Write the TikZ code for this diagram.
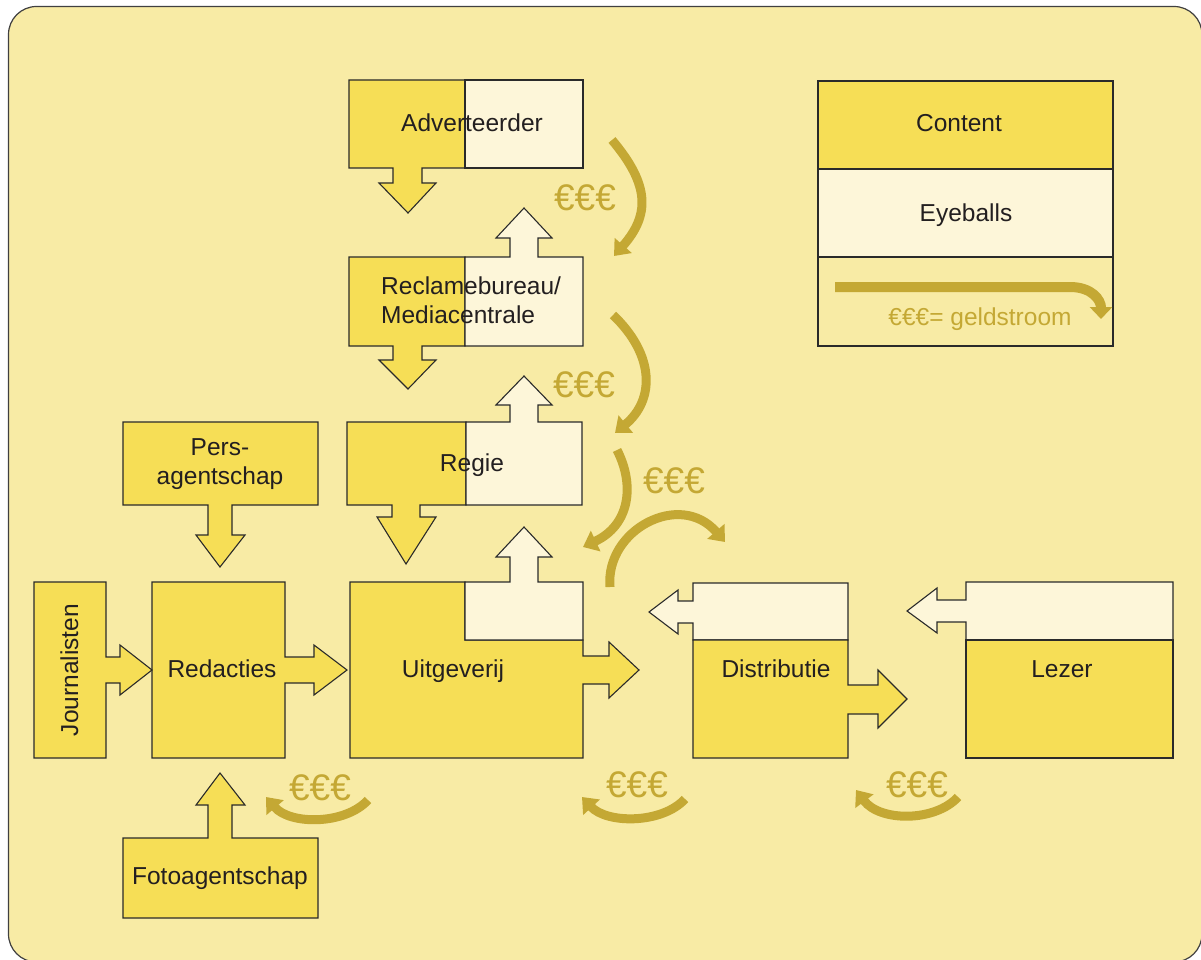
\documentclass[tikz,border=0pt]{standalone}
\usepackage{fontspec}
\setmainfont{Liberation Sans}
\usetikzlibrary{arrows.meta}
\definecolor{bgc}{HTML}{F8EBA5}
\definecolor{cont}{HTML}{F6DE56}
\definecolor{eye}{HTML}{FDF6D9}
\definecolor{euro}{HTML}{C4A834}
\definecolor{ink}{HTML}{231F20}
\definecolor{edge}{HTML}{2A2A2A}
\begin{document}
\begin{tikzpicture}[x=1pt,y=-1pt,
  contentshape/.style={fill=cont,draw=edge,line width=1.1pt,line join=miter},
  eyeshape/.style={fill=eye,draw=edge,line width=1.1pt,line join=miter},
  legendshape/.style={fill=bgc,draw=edge,line width=1.1pt},
  lbl/.style={inner sep=0pt,anchor=base,text=ink,font=\fontsize{24.5}{29}\selectfont},
  eurolbl/.style={inner sep=0pt,anchor=base,text=euro,font=\fontsize{37}{40}\selectfont},
  money/.style={draw=euro,line width=9pt,-{Triangle[width=22pt,length=14pt]}}
]
\useasboundingbox (0,0) rectangle (1201,960);
% background panel
\draw[fill=bgc,draw=black!75,line width=1.2pt,rounded corners=28pt] (8.5,6.5) rectangle (1202,962);

% Adverteerder
\draw[contentshape] (349,80) -- (465,80) -- (465,168) -- (422,168) -- (422,183) -- (436,183) -- (408,213) -- (379,183) -- (393,183) -- (393,168) -- (349,168) -- cycle;
\draw[eyeshape] (465,80) rectangle (583,168);
\node[lbl] (adv) at (472,132) {Adverteerder};

% Reclamebureau / Mediacentrale
\draw[contentshape] (349,257) -- (465,257) -- (465,346) -- (422,346) -- (422,360) -- (436,360) -- (408,389) -- (379,360) -- (393,360) -- (393,346) -- (349,346) -- cycle;
\draw[eyeshape] (465,257) -- (510,257) -- (510,238) -- (496,238) -- (524,208) -- (552,238) -- (538,238) -- (538,257) -- (583,257) -- (583,346) -- (465,346) -- cycle;
\node[lbl,anchor=base west] (recl1) at (381,294) {Reclamebureau/};
\node[lbl,anchor=base west] (recl2) at (381,323) {Mediacentrale};

% Regie
\draw[contentshape] (347,422) -- (466,422) -- (466,505) -- (420,505) -- (420,517) -- (436,517) -- (406,564) -- (377,517) -- (392,517) -- (392,505) -- (347,505) -- cycle;
\draw[eyeshape] (466,422) -- (510,422) -- (510,405) -- (496,405) -- (524,376) -- (552,405) -- (538,405) -- (538,422) -- (582,422) -- (582,505) -- (466,505) -- cycle;
\node[lbl] (regie) at (472,471) {Regie};

% Uitgeverij
\draw[contentshape] (350,582) -- (465,582) -- (465,640) -- (583,640) -- (583,656) -- (609,656) -- (609,642) -- (639,670) -- (609,698) -- (609,684) -- (583,684) -- (583,758) -- (350,758) -- cycle;
\draw[eyeshape] (465,582) -- (510,582) -- (510,557) -- (496,557) -- (524,527) -- (552,557) -- (538,557) -- (538,582) -- (583,582) -- (583,640) -- (465,640) -- cycle;
\node[lbl] (uitg) at (453,677) {Uitgeverij};

% Redacties
\draw[contentshape] (152,582) -- (285,582) -- (285,657) -- (314,657) -- (314,645) -- (347,670) -- (314,695) -- (314,683) -- (285,683) -- (285,758) -- (152,758) -- cycle;
\node[lbl] (red) at (222,677) {Redacties};

% Journalisten
\draw[contentshape] (34,582) -- (106,582) -- (106,657) -- (120,657) -- (120,645) -- (152,670) -- (120,695) -- (120,683) -- (106,683) -- (106,758) -- (34,758) -- cycle;
\node[lbl,rotate=90] (journ) at (78,670) {Journalisten};

% Persagentschap
\draw[contentshape] (123,422) -- (318,422) -- (318,505) -- (232,505) -- (232,535) -- (245,535) -- (220,567) -- (196,535) -- (208,535) -- (208,505) -- (123,505) -- cycle;
\node[lbl] (pers1) at (220,455) {Pers-};
\node[lbl] (pers2) at (220,484) {agentschap};

% Fotoagentschap
\draw[contentshape] (123,838) -- (208,838) -- (208,805) -- (196,805) -- (220,773) -- (245,805) -- (232,805) -- (232,838) -- (318,838) -- (318,918) -- (123,918) -- cycle;
\node[lbl] (foto) at (220,884) {Fotoagentschap};

% Distributie
\draw[eyeshape] (693,583) -- (848,583) -- (848,640) -- (693,640) -- (693,623) -- (678,623) -- (678,634) -- (649,612) -- (678,590) -- (678,601) -- (693,601) -- cycle;
\draw[contentshape] (693,640) -- (848,640) -- (848,685) -- (878,685) -- (878,670) -- (907,699) -- (878,728) -- (878,714) -- (848,714) -- (848,758) -- (693,758) -- cycle;
\node[lbl] (distr) at (776,677) {Distributie};

% Lezer
\draw[eyeshape] (966,582) -- (1173,582) -- (1173,640) -- (966,640) -- (966,622) -- (937,622) -- (937,633) -- (907,611) -- (937,588) -- (937,600) -- (966,600) -- cycle;
\draw[contentshape] (966,640) rectangle (1173,758);
\node[lbl] (lezer) at (1062,677) {Lezer};

% Legend
\draw[contentshape] (818,81) rectangle (1113,169);
\draw[eyeshape] (818,169) rectangle (1113,257);
\draw[legendshape] (818,257) rectangle (1113,346);
\node[lbl] (lcont) at (959,132) {Content};
\node[lbl] (leye) at (966,222) {Eyeballs};
\draw[draw=euro,line width=10pt,-{Triangle[width=22pt,length=12pt]}] (835,287) -- (1070,287) .. controls (1092,287) and (1101,300) .. (1101,319);
\node[lbl,text=euro] (lgeld) at (980,325) {€€€= geldstroom};

% money flows
\draw[money] (612,140) .. controls (650,185) and (650,215) .. (614,256);
\node[eurolbl] (e1) at (585,210) {€€€};
\draw[money] (613,315) .. controls (655,355) and (655,400) .. (615,433);
\node[eurolbl] (e2) at (584,397) {€€€};
\draw[money] (617,450) .. controls (635,485) and (630,525) .. (583,547);
\node[eurolbl] (e3) at (674,493) {€€€};
\draw[money] (610,587) .. controls (605,530) and (680,490) .. (725,542);
\node[eurolbl] (e4) at (320,800) {€€€};
\draw[money] (368,800) .. controls (345,825) and (290,825) .. (266,797);
\node[eurolbl] (e5) at (637,797) {€€€};
\draw[money] (685,799) .. controls (662,824) and (607,824) .. (582,797);
\node[eurolbl] (e6) at (917,797) {€€€};
\draw[money] (958,797) .. controls (935,822) and (880,822) .. (856,790);
\end{tikzpicture}
\end{document}
